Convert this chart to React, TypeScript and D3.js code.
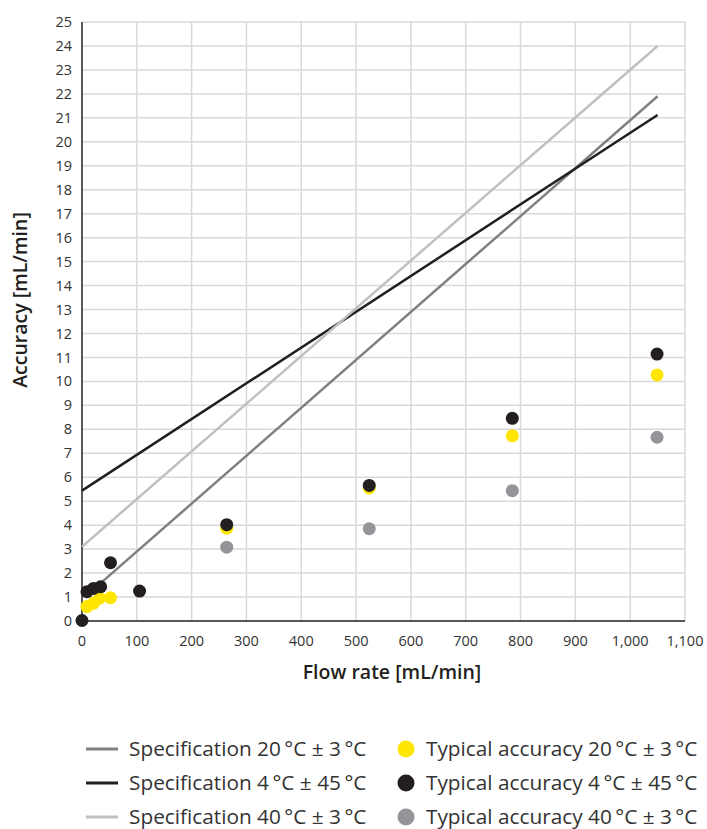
import React from "react";
import * as d3 from "d3";

const xTicks = [0, 100, 200, 300, 400, 500, 600, 700, 800, 900, 1000, 1100];
const yTicks = d3.range(0, 26);

const yellowFlow = [9, 21, 32, 52, 264, 524, 785, 1049];
const yellowAcc = [0.6, 0.74, 0.95, 0.97, 3.87, 5.55, 7.73, 10.27];
const blackFlow = [0, 9, 21, 34, 52, 105, 264, 524, 785, 1049];
const blackAcc = [0.02, 1.22, 1.36, 1.43, 2.43, 1.25, 4.02, 5.66, 8.46, 11.14];
const grayFlow = [264, 524, 785, 1049];
const grayAcc = [3.08, 3.85, 5.44, 7.67];

const spec20 = [[10, 1.1], [1050, 21.9]];
const spec4 = [[0, 5.44], [1050, 21.12]];
const spec40 = [[0, 3.1], [1050, 24.0]];

const lineLabels = [
  "Specification 20\u2009\u00b0C \u00b1 3\u2009\u00b0C",
  "Specification 4\u2009\u00b0C \u00b1 45\u2009\u00b0C",
  "Specification 40\u2009\u00b0C \u00b1 3\u2009\u00b0C",
];
const dotLabels = [
  "Typical accuracy 20\u2009\u00b0C \u00b1 3\u2009\u00b0C",
  "Typical accuracy 4\u2009\u00b0C \u00b1 45\u2009\u00b0C",
  "Typical accuracy 40\u2009\u00b0C \u00b1 3\u2009\u00b0C",
];

const C_SPEC20 = "#808080";
const C_SPEC4 = "#231f20";
const C_SPEC40 = "#c0c0c0";
const C_YEL = "#ffe600";
const C_BLK = "#231f20";
const C_GRY = "#939598";

const FONT = "'Open Sans', Lato, sans-serif";

export default function App() {
  const x = d3.scaleLinear().domain([0, 1100]).range([82, 685]);
  const y = d3.scaleLinear().domain([0, 25]).range([621, 22]);
  const line = d3.line<number[]>().x((d) => x(d[0])).y((d) => y(d[1]));
  const fmt = d3.format(",");

  const specs = [
    { d: spec20, c: C_SPEC20 },
    { d: spec4, c: C_SPEC4 },
    { d: spec40, c: C_SPEC40 },
  ];
  const series = [
    { f: grayFlow, a: grayAcc, c: C_GRY },
    { f: yellowFlow, a: yellowAcc, c: C_YEL },
    { f: blackFlow, a: blackAcc, c: C_BLK },
  ];
  const legendRows = [749, 783, 817];
  const dotColors = [C_YEL, C_BLK, C_GRY];

  return (
    <svg width={707} height={829} style={{ position: "absolute", left: 0, top: 0, background: "#fff" }} fontFamily={FONT}>
      {/* grid */}
      {yTicks.filter((t) => t > 0).map((t) => (
        <line key={"gy" + t} x1={x(0)} x2={x(1100)} y1={y(t)} y2={y(t)} stroke="#d9d9d9" strokeWidth={1.5} />
      ))}
      {xTicks.filter((t) => t > 0).map((t) => (
        <line key={"gx" + t} x1={x(t)} x2={x(t)} y1={y(0)} y2={y(25)} stroke="#d9d9d9" strokeWidth={1.5} />
      ))}
      {/* axes */}
      <line x1={x(0)} x2={x(0)} y1={y(0)} y2={y(25)} stroke="#231f20" strokeWidth={1.5} />
      <line x1={x(0)} x2={x(1100)} y1={y(0)} y2={y(0)} stroke="#231f20" strokeWidth={1.5} />
      {yTicks.map((t) => (
        <text key={"ty" + t} x={72} y={y(t)} dy="0.35em" textAnchor="end" fontSize={14.5} fill="#333">{t}</text>
      ))}
      {xTicks.map((t) => (
        <text key={"tx" + t} x={x(t)} y={641} dy="0.35em" textAnchor="middle" fontSize={14.5} fill="#333">{fmt(t)}</text>
      ))}
      <text x={392} y={672} dy="0.35em" textAnchor="middle" fontSize={19.5} fontWeight={600} fill="#231f20">Flow rate [mL/min]</text>
      <text transform="translate(20,300) rotate(-90)" dy="0.35em" textAnchor="middle" fontSize={19.5} fontWeight={600} fill="#231f20">Accuracy [mL/min]</text>
      {/* spec lines */}
      {specs.map((s, i) => (
        <path key={"s" + i} d={line(s.d) || ""} stroke={s.c} strokeWidth={2.5} fill="none" />
      ))}
      {/* points */}
      {series.map((s, i) =>
        s.f.map((f, j) => (
          <circle key={"p" + i + "-" + j} cx={x(f)} cy={y(s.a[j])} r={6.5} fill={s.c} />
        ))
      )}
      {/* legend */}
      {lineLabels.map((l, i) => (
        <g key={"ll" + i}>
          <line x1={86} x2={118} y1={legendRows[i]} y2={legendRows[i]} stroke={specs[i].c} strokeWidth={3} />
          <text x={129} y={legendRows[i]} dy="0.35em" fontSize={20.8} fill="#333">{l}</text>
        </g>
      ))}
      {dotLabels.map((l, i) => (
        <g key={"dl" + i}>
          <circle cx={406} cy={legendRows[i]} r={8.5} fill={dotColors[i]} />
          <text x={426} y={legendRows[i]} dy="0.35em" fontSize={20.8} fill="#333">{l}</text>
        </g>
      ))}
    </svg>
  );
}
